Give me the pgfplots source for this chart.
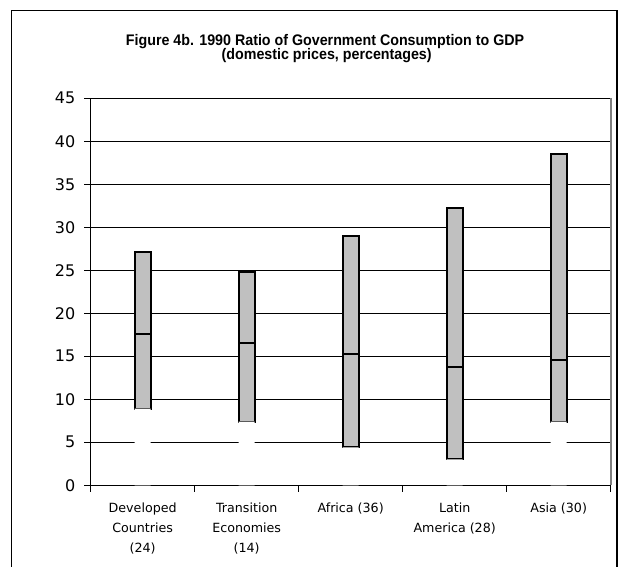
\documentclass[border=0pt]{standalone}
\usepackage{fontspec}
\setmainfont{DejaVu Sans}
\newfontfamily\titlefont[FakeStretch=0.93]{Liberation Sans}
\usepackage{pgfplots}
\pgfplotsset{compat=1.18}
\definecolor{barfill}{HTML}{C0C0C0}
\begin{document}
\begin{tikzpicture}
\useasboundingbox (0,0) rectangle (463.5pt,425.25pt);
\fill[white] (0,0) rectangle (463.5pt,425.25pt);
\draw[black, line width=1pt] (8.6pt,-10pt) -- (8.6pt,417.4pt) -- (462.75pt,417.4pt) -- (462.75pt,-10pt);
\node[anchor=base, inner sep=0pt, font=\titlefont\bfseries\fontsize{11.5}{13}\selectfont] at (243.8pt,391.1pt) {Figure 4b. 1990 Ratio of Government Consumption to GDP};
\node[anchor=base, inner sep=0pt, font=\titlefont\bfseries\fontsize{11.5}{13}\selectfont] at (245pt,380.6pt) {(domestic prices, percentages)};
\begin{axis}[
  at={(68.0pt,61.3pt)}, anchor=south west,
  scale only axis, width=390pt, height=290.25pt,
  xmin=-0.5, xmax=4.5, ymin=0, ymax=45,
  ytick={0,5,...,45},
  ymajorgrids, grid style={black, line width=0.6pt},
  ybar stacked, bar width=12pt,
  xtick={0,...,4},
  xticklabels={Developed\\Countries\\(24), Transition\\Economies\\(14), Africa (36), Latin\\America (28), Asia (30)},
  xticklabel style={align=center, inner sep=0pt, anchor=north, yshift=-8pt, font=\fontsize{9.5}{15}\selectfont},
  yticklabel style={font=\fontsize{12}{14}\selectfont, xshift=-3pt},
  /pgf/number format/assume math mode=true,
  major x tick style={draw=none},
  minor xtick={-0.5,0.5,...,4.5},
  minor x tick style={black, line width=0.6pt},
  major y tick style={black, line width=0.6pt},
  tick align=outside, tick pos=left,
  major tick length=5pt, minor tick length=5pt,
  axis line style={draw=none},
  clip=false,
]
\addplot[fill=white, draw=none] coordinates {(0,8.9) (1,7.4) (2,4.4) (3,3.0) (4,7.4)};
\addplot[fill=barfill, draw=black, line width=1.5pt] coordinates {(0,8.7) (1,9.1) (2,10.9) (3,10.7) (4,7.2)};
\addplot[fill=barfill, draw=black, line width=1.5pt] coordinates {(0,9.5) (1,8.3) (2,13.7) (3,18.5) (4,23.9)};
\draw[black, line width=0.75pt] (rel axis cs:0,0) -- (rel axis cs:0,1);
\draw[black, line width=0.75pt] (rel axis cs:0,0) -- (rel axis cs:1,0);
\draw[gray, line width=1.5pt] (rel axis cs:1,0) -- (rel axis cs:1,1);
\end{axis}
\end{tikzpicture}
\end{document}
